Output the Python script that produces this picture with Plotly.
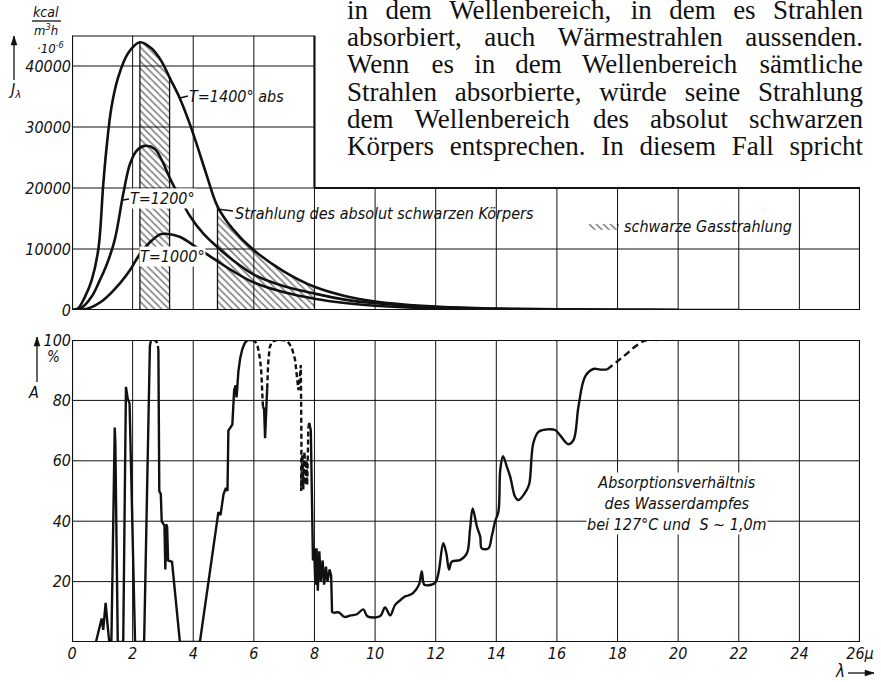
import plotly.graph_objects as go

W, H = 881, 682
INK = "#111111"
NARROW = "Liberation Sans Narrow, DejaVu Sans Condensed, Arial Narrow, sans-serif"
SERIF = "Liberation Serif, Times New Roman, serif"

# ---------------- black-body emission J_lambda (kcal/m³h ·10^-6) -------------
wl_1400 = [0, 0.2, 0.43, 0.65, 0.87, 1.03, 1.14, 1.30, 1.52, 1.85, 2.24, 2.62,
           2.95, 3.22, 3.55, 3.85, 4.1, 4.43, 4.8, 5.3, 6.0, 7.0, 8.0, 9.0,
           10.0, 12.0, 14.0, 16.0, 18.0, 20.0, 22.0]
j_1400 = [0, 300, 2200, 4900, 10000, 20500, 26600, 33200, 38100, 42100, 43900,
          42900, 40800, 38100, 34800, 31000, 27400, 22300, 17000, 13300, 9800,
          6300, 3800, 2300, 1400, 550, 250, 100, 40, 10, 0]

wl_1200 = [0, 0.3, 0.65, 0.92, 1.15, 1.41, 1.69, 1.91, 2.13, 2.40, 2.73, 3.0,
           3.22, 3.55, 3.88, 4.32, 4.8, 5.3, 6.0, 7.0, 8.0, 9.0, 10.0, 12.0,
           14.0, 16.0, 18.0, 20.0]
j_1200 = [0, 300, 2200, 4900, 7500, 11500, 19000, 23900, 26100, 26900, 26400,
          24200, 21700, 18500, 15500, 12600, 10300, 8200, 5800, 3900, 2700,
          1700, 1100, 450, 180, 80, 30, 0]

wl_1000 = [0, 0.5, 1.03, 1.58, 1.91, 2.24, 2.57, 2.9, 3.1, 3.55, 4.1, 4.8,
           5.3, 6.0, 7.0, 8.0, 9.0, 10.0, 12.0, 14.0, 16.0, 18.0, 20.0]
j_1000 = [0, 200, 1600, 4350, 6500, 9200, 11100, 12400, 12500, 12000, 10300,
          8000, 6400, 4500, 2900, 1850, 1150, 700, 250, 100, 40, 10, 0]

# wavelength bands of black gas radiation (µm)
gas_band_lo = [2.24, 4.8]
gas_band_hi = [3.22, 8.0]

# ---------------- absorption ratio A of water vapour (%) ----------------------
# measured parts (solid) and interpolated parts (dashed)
a_wl_1 = [0.79, 0.98, 1.03, 1.11, 1.17, 1.23, 1.30, 1.39, 1.41, 1.43, 1.51,
          1.69, 1.76, 1.78, 1.84, 1.90, 2.08, 2.38, 2.57]
a_val_1 = [0, 7.8, 4, 13, 6, 0, 0, 70.5, 71, 66, 0, 0, 84.5, 84.5, 80.5, 79,
           0, 0, 98]
a_wl_2 = [2.57, 2.62, 2.70, 2.78, 2.85]
a_val_2 = [98, 99.8, 100, 99.5, 97]
a_wl_3 = [2.85, 2.87, 2.88, 2.93, 2.96, 3.05, 3.08, 3.11, 3.14, 3.17, 3.30,
          3.56, 4.22, 4.83, 4.90, 5.00, 5.08, 5.13, 5.16, 5.29, 5.35, 5.40,
          5.43, 5.49, 5.55, 5.62, 5.70, 5.80, 5.95]
a_val_3 = [97, 60, 50, 49, 40, 38.5, 24, 39, 38, 27, 26.5, 0, 0, 43, 42, 49,
           51, 50, 70, 72, 83.4, 85, 81, 89.6, 94, 97, 99, 100, 100]
a_wl_4 = [5.95, 6.08, 6.18, 6.24, 6.28, 6.30]
a_val_4 = [100, 99, 95, 90, 82, 78]
a_wl_5 = [6.30, 6.34, 6.37, 6.40, 6.44]
a_val_5 = [78, 77, 67.5, 76, 84]
a_wl_6 = [6.44, 6.47, 6.52, 6.60, 6.75, 6.97, 7.12, 7.25, 7.36, 7.47, 7.50,
          7.55, 7.57, 7.56, 7.60, 7.63, 7.67, 7.71, 7.74, 7.76, 7.80]
a_val_6 = [84, 92, 97.5, 99.5, 100, 100, 99.5, 97.5, 93.5, 83.4, 86, 91.7, 66,
           50, 62, 50.5, 63, 52, 60, 52, 71.3]
a_wl_7 = [7.80, 7.83, 7.88, 7.91, 7.95, 7.99, 8.03, 8.07, 8.11, 8.16, 8.21,
          8.27, 8.32, 8.38, 8.43, 8.50, 8.55, 8.58, 8.62]
a_val_7 = [71.3, 72.5, 70, 50, 27, 31, 19, 31, 17, 30, 20, 27, 19, 25, 20, 24,
           22, 10, 9.6]
a_wl_8 = [8.62, 8.8, 8.99, 9.2, 9.4, 9.61, 9.75, 10.16, 10.33, 10.5, 10.66,
          10.85, 10.99, 11.1, 11.26, 11.45, 11.54, 11.62, 11.76, 11.98, 12.09,
          12.25, 12.35, 12.44, 12.53, 12.8, 13.03, 13.13, 13.22, 13.36, 13.47,
          13.52, 13.74, 13.85, 13.96, 14.07, 14.13, 14.22, 14.35, 14.46, 14.62,
          14.73, 15.0, 15.09, 15.22, 15.39, 15.67, 15.94, 16.1, 16.38, 16.55,
          16.71, 16.93, 17.2, 17.43, 17.65]
a_val_8 = [9.6, 9.8, 8.3, 8.8, 9.2, 10.8, 8.5, 8.5, 11.4, 8.8, 12.3, 14, 15.1,
           15.4, 16.3, 19.0, 23.4, 19, 18.8, 19.6, 22.8, 32.7, 29.4, 24, 26.6,
           27.1, 29.4, 37, 44.2, 38.2, 34.9, 31, 31, 35, 39.9, 43.2, 56.9, 61.5,
           58, 54.7, 48.1, 47, 50.3, 52.5, 65.8, 69.6, 70.4, 70.2, 68.5, 65.5,
           66.9, 77.9, 87.9, 90.4, 90.2, 90.2]
a_wl_9 = [17.65, 17.98, 18.31, 18.64, 18.97, 19.3]
a_val_9 = [90.2, 92.8, 95.5, 98.3, 100, 100]

# tick labels
j_ticks = [0, 10000, 20000, 30000, 40000]
a_ticks = [20, 40, 60, 80, 100]
wl_ticks = list(range(0, 27, 2))
wl_tick_text = [str(v) for v in wl_ticks[:-1]] + ["26μ"]

# surrounding book text (justified paragraph)
paragraph = [
    "in dem Wellenbereich, in dem es Strahlen",
    "absorbiert, auch Wärmestrahlen aussenden.",
    "Wenn es in dem Wellenbereich sämtliche",
    "Strahlen absorbierte, würde seine Strahlung",
    "dem Wellenbereich des absolut schwarzen",
    "Körpers entsprechen.  In diesem Fall spricht",
]

# ---------------------------------------------------------------------------
# frame geometry (pixels of the 881x682 page)
PX_L, PX_R = 72, 860
TOP_Y0, TOP_Y1 = 310, 35.5        # J = 0 and J = J_MAX
BOT_Y0, BOT_Y1 = 642, 340         # A = 0 and A = 100
J_MAX, J_SPLIT, WL_SPLIT, WL_MAX = 45000, 20000, 8, 26


def px(x):
    return x / W


def py(y):
    return 1 - y / H


def ital(values):
    return [f"<i>{v}</i>" for v in values]


fig = go.Figure()

# hatched gas-radiation bands under the 1400 K curve
for i, (lo, hi) in enumerate(zip(gas_band_lo, gas_band_hi)):
    bx = [x for x in wl_1400 if lo - 1e-9 <= x <= hi + 1e-9]
    by = [j for x, j in zip(wl_1400, j_1400) if lo - 1e-9 <= x <= hi + 1e-9]
    fig.add_trace(go.Scatter(
        x=bx, y=by, mode="lines", fill="tozeroy",
        line=dict(width=0, shape="spline"),
        fillcolor="rgba(0,0,0,0)",
        fillpattern=dict(shape="\\", size=5, solidity=0.32, fgcolor="black",
                         bgcolor="rgba(0,0,0,0)"),
        name="schwarze Gasstrahlung", showlegend=(i == 0),
        hoverinfo="skip", xaxis="x", yaxis="y"))

for wl, jv in ((wl_1400, j_1400), (wl_1200, j_1200), (wl_1000, j_1000)):
    fig.add_trace(go.Scatter(
        x=wl, y=jv, mode="lines",
        line=dict(color=INK, width=2.6, shape="spline", smoothing=1.0),
        showlegend=False, hoverinfo="skip", xaxis="x", yaxis="y"))

abs_parts = [
    (a_wl_1, a_val_1, "solid", "linear"),
    (a_wl_2, a_val_2, "5px,3px", "spline"),
    (a_wl_3, a_val_3, "solid", "linear"),
    (a_wl_4, a_val_4, "5px,3px", "spline"),
    (a_wl_5, a_val_5, "solid", "linear"),
    (a_wl_6, a_val_6, "5px,3px", "linear"),
    (a_wl_7, a_val_7, "solid", "linear"),
    (a_wl_8, a_val_8, "solid", "spline"),
    (a_wl_9, a_val_9, "7px,4px", "spline"),
]
for xs, ys, dash, shape in abs_parts:
    fig.add_trace(go.Scatter(
        x=xs, y=ys, mode="lines",
        line=dict(color=INK, width=2.4, dash=dash, shape=shape),
        showlegend=False, hoverinfo="skip", xaxis="x2", yaxis="y2"))

# justified paragraph above the small diagram, set word by word on a
# page-pixel overlay so the first line is clipped at the top edge
TIMES = {' ': 250, ',': 250, '.': 250, 'a': 444, 'b': 500, 'c': 444, 'd': 500,
         'e': 444, 'f': 333, 'g': 500, 'h': 500, 'i': 278, 'j': 278, 'k': 500,
         'l': 278, 'm': 778, 'n': 500, 'o': 500, 'p': 500, 'q': 500, 'r': 333,
         's': 389, 't': 278, 'u': 500, 'v': 500, 'w': 722, 'x': 500, 'y': 500,
         'z': 444, 'ä': 444, 'ö': 500, 'ü': 500, 'W': 944, 'S': 556, 'K': 722,
         'I': 333, 'F': 556}
P_SIZE, P_LEFT, P_RIGHT = 27, 347, 863
P_MID0, P_LEAD = 12, 27.3


def wwidth(word):
    return sum(TIMES.get(c, 500) for c in word) / 1000 * P_SIZE


word_x, word_y, word_t = [], [], []
for i, line_text in enumerate(paragraph):
    words = line_text.split()
    widths = [wwidth(w) for w in words]
    gap = (P_RIGHT - P_LEFT - sum(widths)) / (len(words) - 1)
    xw = P_LEFT
    for w, wd in zip(words, widths):
        word_x.append(xw)
        word_y.append(P_MID0 + i * P_LEAD)
        word_t.append(w)
        xw += wd + gap
fig.add_trace(go.Scatter(
    x=word_x, y=word_y, text=word_t, mode="text", textposition="middle right",
    textfont=dict(family=SERIF, size=P_SIZE, color=INK), cliponaxis=True,
    showlegend=False, hoverinfo="skip", xaxis="x3", yaxis="y3"))

# ---------------------------------------------------------------------------
shapes = []


def seg(x0, y0, x1, y1, xr, yr, w, layer="below"):
    shapes.append(dict(type="line", x0=x0, y0=y0, x1=x1, y1=y1, xref=xr,
                       yref=yr, layer=layer,
                       line=dict(color=INK, width=w)))


def arrow(x0, y0, x1, y1):
    """Line with a filled head, in page pixels (overlay axes)."""
    seg(x0, y0, x1, y1, "x3", "y3", 1.3, "above")
    dx, dy = x1 - x0, y1 - y0
    n = (dx * dx + dy * dy) ** 0.5
    ux, uy = dx / n, dy / n
    bx, by = x1 - 9 * ux, y1 - 9 * uy
    path = (f"M{x1},{y1} L{bx - 3 * uy},{by + 3 * ux} "
            f"L{bx + 3 * uy},{by - 3 * ux} Z")
    shapes.append(dict(type="path", path=path, xref="x3", yref="y3",
                       layer="above", fillcolor=INK,
                       line=dict(color=INK, width=0.5)))


GRID_W, FRAME_W = 1.0, 2.2
# upper diagram: grid
for g in wl_ticks[1:-1]:
    top = J_MAX if g < WL_SPLIT else J_SPLIT
    seg(g, 0, g, top, "x", "y", GRID_W)
for g in j_ticks[1:]:
    end = WL_MAX if g < J_SPLIT else WL_SPLIT
    seg(0, g, end, g, "x", "y", GRID_W)
# upper diagram: stepped frame
frame = [(0, 0), (0, J_MAX), (WL_SPLIT, J_MAX), (WL_SPLIT, J_SPLIT),
         (WL_MAX, J_SPLIT), (WL_MAX, 0), (0, 0)]
for (x0, y0), (x1, y1) in zip(frame[:-1], frame[1:]):
    seg(x0, y0, x1, y1, "x", "y", FRAME_W, "above")
# band edges
for lo, hi in zip(gas_band_lo, gas_band_hi):
    for edge in (lo, hi):
        k = wl_1400.index(edge)
        seg(edge, 0, edge, j_1400[k], "x", "y", 1.3, "above")

# lower diagram
for g in wl_ticks[1:-1]:
    seg(g, 0, g, 100, "x2", "y2", GRID_W)
for g in a_ticks[:-1]:
    seg(0, g, WL_MAX, g, "x2", "y2", GRID_W)
shapes.append(dict(type="rect", x0=0, y0=0, x1=WL_MAX, y1=100, xref="x2",
                   yref="y2", layer="above",
                   line=dict(color=INK, width=FRAME_W)))

# label leaders and unit fraction bar (page pixels)
for x0, y0, x1, y1 in [(180, 98, 188, 96), (123, 200, 129, 199),
                       (134, 262, 139, 257), (217, 209, 233, 211),
                       (32, 21, 61, 21)]:
    seg(x0, y0, x1, y1, "x3", "y3", 1.3, "above")

arrow(14, 80, 14, 36)       # J_lambda
arrow(37, 382, 37, 337)     # A
arrow(848, 673, 874, 673)   # lambda

# ---------------------------------------------------------------------------
ann = []


def label(x, y, text, size=16, xanchor="left", font=NARROW, italic=True,
          bg=None):
    ann.append(dict(x=px(x), y=py(y), xref="paper", yref="paper", text=text,
                    showarrow=False, xanchor=xanchor, yanchor="middle",
                    bgcolor=bg, borderpad=0, align="center",
                    font=dict(family=font, size=size, color=INK,
                              style="italic" if italic else "normal")))


label(188, 97, "T=1400° abs")
label(129, 199, "T=1200°", bg="white")
label(139, 256, "T=1000°", bg="white")
label(234, 214, "Strahlung des absolut schwarzen Körpers")
label(677, 503, "Absorptionsverhältnis<br>des Wasserdampfes<br>"
      "bei 127°C und  S ~ 1,0m", size=16, xanchor="center", bg="white")

# axis captions
label(46, 12, "kcal", size=14, xanchor="center")
label(46, 30, "m<sup>3</sup>h", size=13, xanchor="center")
label(50, 48, "·10<sup>-6</sup>", size=13, xanchor="center")
label(14, 90, "J<sub>λ</sub>", size=16, xanchor="center")
label(53, 357, "%", size=15, xanchor="center")
label(33, 392, "A", size=16, xanchor="center")
label(840, 671, "λ", size=17, xanchor="center")

# ---------------------------------------------------------------------------
tickfont = dict(family=NARROW, size=16, color=INK, style="italic")
xdom = [px(PX_L), px(PX_R)]
fig.update_layout(
    width=W, height=H, margin=dict(l=0, r=0, t=0, b=0, autoexpand=False),
    paper_bgcolor="white", plot_bgcolor="rgba(0,0,0,0)",
    xaxis=dict(domain=xdom, range=[0, WL_MAX], showgrid=False,
               zeroline=False, showticklabels=False, showline=False,
               anchor="y"),
    yaxis=dict(domain=[py(TOP_Y0), py(TOP_Y1)], range=[0, J_MAX],
               showgrid=False, zeroline=False, showline=False,
               tickvals=j_ticks, ticktext=ital(j_ticks),
               tickfont=tickfont, ticks="", anchor="x"),
    xaxis2=dict(domain=xdom, range=[0, WL_MAX], showgrid=False,
                zeroline=False, showline=False, anchor="y2",
                tickvals=wl_ticks, ticktext=ital(wl_tick_text),
                tickfont=tickfont, ticks=""),
    yaxis2=dict(domain=[py(BOT_Y0), py(BOT_Y1)], range=[0, 100],
                showgrid=False, zeroline=False, showline=False,
                tickvals=a_ticks, ticktext=ital(a_ticks),
                tickfont=tickfont, ticks="", anchor="x2"),
    # page-pixel overlay for the paragraph, leaders and arrows
    xaxis3=dict(domain=[0, 1], range=[0, W], visible=False, anchor="y3",
                fixedrange=True),
    yaxis3=dict(domain=[0, 1], range=[H, 0], visible=False, anchor="x3",
                fixedrange=True),
    shapes=shapes, annotations=ann,
    showlegend=True,
    legend=dict(x=px(584), y=py(209), xanchor="left", yanchor="top",
                bgcolor="rgba(0,0,0,0)", borderwidth=0, itemwidth=30,
                font=dict(family=NARROW, size=16, color=INK, style="italic")),
)

fig.write_html("out.html")
